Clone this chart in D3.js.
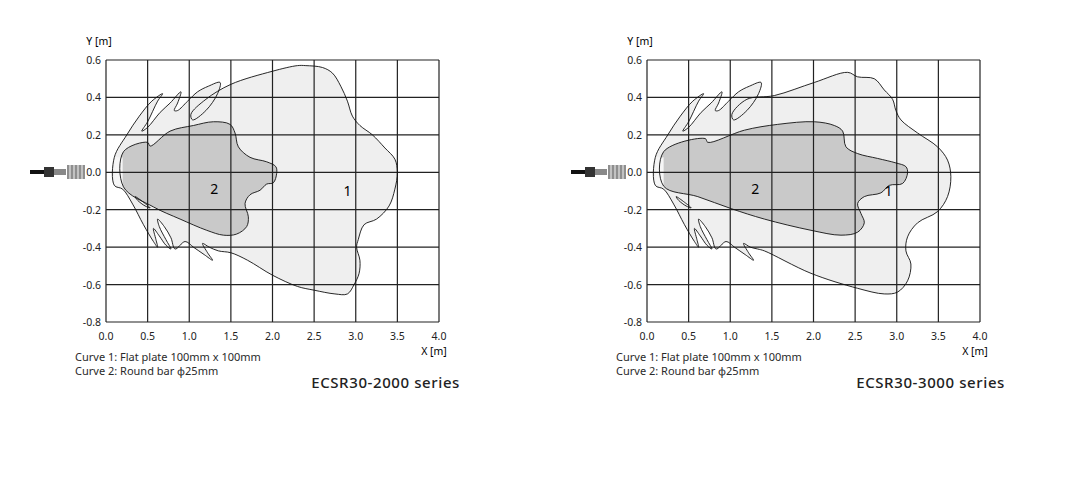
<!DOCTYPE html>
<html><head><meta charset="utf-8">
<script src="https://cdn.jsdelivr.net/npm/d3@7"></script>
<style>body{margin:0;background:#fff}text{font-family:"Noto Sans",Arial,sans-serif}</style>
</head><body>
<script>
// axis ticks
const xTicks = [0, 0.5, 1.0, 1.5, 2.0, 2.5, 3.0, 3.5, 4.0];
const yTicks = [0.6, 0.4, 0.2, 0, -0.2, -0.4, -0.6, -0.8];
const legendLines = ["Curve 1: Flat plate 100mm x 100mm", "Curve 2: Round bar \u03d525mm"];

// lobes shared by both charts (top and bottom side lobes)
const topLobes = [[0.10,0.08],[0.25,0.20],[0.40,0.30],[0.55,0.38],[0.68,0.42],[0.62,0.38],[0.50,0.27],[0.43,0.22],
  [0.50,0.24],[0.65,0.32],[0.77,0.37],[0.90,0.43],[0.86,0.37],[0.82,0.33],[0.86,0.33],[0.98,0.38],[1.10,0.43],
  [1.23,0.46],[1.37,0.48],[1.34,0.42],[1.20,0.33],[1.04,0.28],[1.02,0.31],[1.20,0.39]];
const bottomLobes = [[1.24,-0.40],[1.16,-0.38],[1.22,-0.43],[1.28,-0.47],[1.18,-0.44],[1.05,-0.40],[0.95,-0.37],
  [0.83,-0.41],[0.78,-0.35],[0.70,-0.29],[0.62,-0.25],[0.64,-0.29],[0.72,-0.36],[0.78,-0.41],[0.72,-0.39],
  [0.64,-0.34],[0.57,-0.30],[0.60,-0.36],[0.62,-0.40],[0.57,-0.37],[0.45,-0.28],[0.32,-0.17],[0.20,-0.09],[0.10,-0.07]];
const smallLobe = [[0.35,-0.13],[0.45,-0.16],[0.53,-0.19],[0.47,-0.18],[0.38,-0.15]];

// series 2000: curve 1 main body, curve 2
const c1_2000 = [[1.50,0.47],[2.00,0.54],[2.30,0.57],[2.40,0.57],[2.60,0.56],[2.72,0.53],[2.82,0.46],[2.90,0.38],
  [2.96,0.30],[3.05,0.25],[3.20,0.20],[3.35,0.13],[3.47,0.07],[3.50,0.0],[3.47,-0.09],[3.40,-0.18],[3.25,-0.25],
  [3.10,-0.28],[3.03,-0.36],[3.01,-0.40],[3.05,-0.47],[3.04,-0.54],[2.98,-0.60],[2.90,-0.65],[2.75,-0.65],
  [2.50,-0.63],[2.30,-0.61],[2.00,-0.55],[1.70,-0.47],[1.50,-0.43],[1.35,-0.42]];
const c2_2000 = [[0.21,0.11],[0.50,0.16],[0.53,0.14],[0.77,0.22],[1.05,0.25],[1.29,0.27],[1.49,0.256],[1.55,0.21],
  [1.59,0.136],[1.73,0.08],[1.93,0.056],[2.04,0.03],[2.05,-0.006],[2.01,-0.056],[1.93,-0.063],[1.85,-0.096],
  [1.73,-0.12],[1.67,-0.167],[1.71,-0.238],[1.69,-0.29],[1.57,-0.33],[1.41,-0.336],[1.21,-0.31],[0.89,-0.25],
  [0.57,-0.185],[0.21,-0.078]];

// series 3000
const c1_3000 = [[1.53,0.41],[2.01,0.48],[2.41,0.534],[2.53,0.51],[2.73,0.50],[2.85,0.44],[2.95,0.39],[2.99,0.33],
  [3.05,0.28],[3.25,0.21],[3.49,0.136],[3.61,0.065],[3.65,-0.024],[3.61,-0.13],[3.49,-0.21],[3.25,-0.27],
  [3.13,-0.345],[3.11,-0.42],[3.17,-0.49],[3.13,-0.58],[3.01,-0.64],[2.85,-0.65],[2.53,-0.62],[1.97,-0.54],
  [1.41,-0.42],[1.33,-0.41]];
const c2_3000 = [[0.20,0.11],[0.70,0.18],[0.73,0.16],[1.17,0.225],[1.57,0.256],[2.01,0.27],[2.25,0.25],[2.35,0.22],
  [2.39,0.136],[2.53,0.10],[2.77,0.074],[2.99,0.05],[3.11,0.03],[3.13,-0.003],[3.07,-0.06],[2.91,-0.07],
  [2.81,-0.11],[2.61,-0.13],[2.53,-0.167],[2.57,-0.22],[2.61,-0.27],[2.53,-0.32],[2.33,-0.336],[1.97,-0.31],
  [1.41,-0.25],[1.01,-0.194],[0.61,-0.13],[0.20,-0.074]];

const charts = [
  {left: 106, c1: c1_2000, c2: c2_2000, title: "ECSR30-2000 series", l1: [2.9, -0.1], l2: [1.3, -0.09], titleX: 460},
  {left: 647, c1: c1_3000, c2: c2_3000, title: "ECSR30-3000 series", l1: [2.9, -0.1], l2: [1.3, -0.09], titleX: 1005}
];

const svg = d3.select("body").append("svg").attr("width", 1077).attr("height", 483);

charts.forEach(c => {
  const x = d3.scaleLinear().domain([0, 4]).range([c.left, c.left + 333]);
  const y = d3.scaleLinear().domain([-0.8, 0.6]).range([322, 60]);
  const g = svg.append("g");
  const line = d3.line().x(d => x(d[0])).y(d => y(d[1])).curve(d3.curveCatmullRomClosed.alpha(0.5));
  const outer = topLobes.concat(c.c1, bottomLobes);

  g.append("path").attr("d", line(outer)).attr("fill", "#efefef");
  g.append("path").attr("d", line(c.c2)).attr("fill", "#c9c9c9");
  // light band near sensor
  g.append("rect").attr("x", x(0.1)).attr("y", y(0.08)).attr("width", x(0.2) - x(0.1))
    .attr("height", y(-0.07) - y(0.08)).attr("fill", "#f6f6f6");

  // grid
  xTicks.forEach(t => g.append("line").attr("x1", x(t)).attr("x2", x(t)).attr("y1", y(0.6)).attr("y2", y(-0.8))
    .attr("stroke", "#222").attr("stroke-width", 1.2));
  yTicks.forEach(t => g.append("line").attr("x1", x(0)).attr("x2", x(4)).attr("y1", y(t)).attr("y2", y(t))
    .attr("stroke", "#222").attr("stroke-width", 1.2));

  g.append("path").attr("d", line(outer)).attr("fill", "none").attr("stroke", "#111").attr("stroke-width", 0.9);
  g.append("path").attr("d", line(c.c2)).attr("fill", "none").attr("stroke", "#111").attr("stroke-width", 0.9);
  g.append("path").attr("d", line(smallLobe)).attr("fill", "none").attr("stroke", "#111").attr("stroke-width", 0.9);

  // tick labels
  xTicks.forEach(t => g.append("text").attr("x", x(t)).attr("y", 340).attr("text-anchor", "middle")
    .attr("font-size", 10.5).attr("fill", "#222").text(t.toFixed(1)));
  yTicks.forEach(t => g.append("text").attr("x", x(0) - 5).attr("y", y(t) + 4).attr("text-anchor", "end")
    .attr("font-size", 10.5).attr("fill", "#222").text(t.toFixed(1)));
  g.append("text").attr("x", x(0) - 7).attr("y", 45).attr("text-anchor", "middle").attr("font-size", 10.5).text("Y [m]");
  g.append("text").attr("x", x(4) - 5).attr("y", 355).attr("text-anchor", "middle").attr("font-size", 10.5).text("X [m]");

  g.append("text").attr("x", x(c.l1[0])).attr("y", y(c.l1[1]) + 5).attr("text-anchor", "middle").attr("font-size", 14).text("1");
  g.append("text").attr("x", x(c.l2[0])).attr("y", y(c.l2[1]) + 5).attr("text-anchor", "middle").attr("font-size", 14).text("2");

  legendLines.forEach((s, i) => g.append("text").attr("x", x(0) - 31).attr("y", 361 + i * 14)
    .attr("font-size", 11).attr("fill", "#2a2a2a").text(s));
  g.append("text").attr("x", c.titleX).attr("y", 388).attr("text-anchor", "end").attr("font-size", 15)
    .attr("font-weight", 500).attr("letter-spacing", 0.6).attr("fill", "#222").text(c.title);

  // sensor icon
  const sx = c.left - 76, sy = 172;
  g.append("rect").attr("x", sx).attr("y", sy - 2).attr("width", 16).attr("height", 4).attr("fill", "#111");
  g.append("rect").attr("x", sx + 14).attr("y", sy - 5).attr("width", 10).attr("height", 10).attr("fill", "#333");
  g.append("rect").attr("x", sx + 24).attr("y", sy - 3).attr("width", 12).attr("height", 6).attr("fill", "#888");
  for (let i = 0; i < 9; i++) {
    g.append("line").attr("x1", sx + 38 + i * 2).attr("x2", sx + 38 + i * 2).attr("y1", sy - 7).attr("y2", sy + 7)
      .attr("stroke", i % 2 ? "#999" : "#444").attr("stroke-width", 1.2);
  }
});
</script>
</body></html>
